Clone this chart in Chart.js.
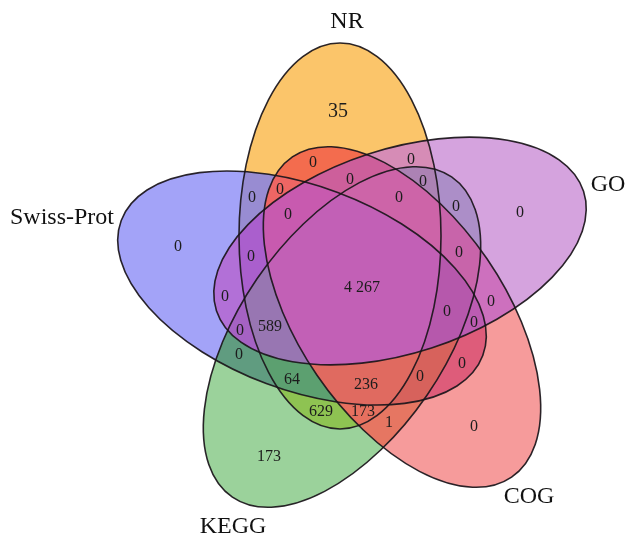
<!DOCTYPE html>
<html>
<head>
<meta charset="utf-8">
<script src="https://cdn.jsdelivr.net/npm/chart.js@4.4.1/dist/chart.umd.min.js"></script>
<style>
  html, body { margin: 0; padding: 0; background: #fff; }
  #wrap { width: 625px; height: 539px; }
</style>
</head>
<body>
<div id="wrap"><canvas id="venn" width="625" height="539"></canvas></div>
<script>
// ===== DATA =====
const setNames = ["NR", "Swiss-Prot", "KEGG", "COG", "GO"];
const setKeys = ["N", "S", "K", "C", "G"];

// which sets each region belongs to, and its count
const regionMembers = [
  "N",
  "NC", "NG", "NSC", "NS", "NCG", "NKG", "NKCG", "NSCG", "KG",
  "G", "S", "NSG", "KCG",
  "NSKCG",
  "SG", "CG", "SKCG", "SCG", "SKG",
  "NSKG",
  "SK", "SKC", "SC",
  "NSK", "NSKC", "NK", "NKC", "KC",
  "C", "K"
];
const regionCounts = [
  35,
  0, 0, 0, 0, 0, 0, 0, 0, 0,
  0, 0, 0, 0,
  4267,
  0, 0, 0, 0, 0,
  589,
  0, 0, 0,
  64, 236, 629, 173, 1,
  0, 173
];

// ===== LAYOUT =====
// plot units == canvas pixels (x 0..625, y 0..539 top-down)
const ellipseCenters = [[340, 236], [302, 288], [342, 337], [402, 317], [400, 251]];
const ellipseAxes = [[193, 101], [193, 102], [194, 103], [194, 103], [193, 102]];
const ellipseTilt = [90, 20.5, -55.6, 55.6, -18];

const regionFills = [
  "rgb(251,197,106)",
  "rgb(243,108,78)", "rgb(214,140,182)", "rgb(238,102,100)", "rgb(152,140,210)", "rgb(205,95,155)",
  "rgb(172,130,180)", "rgb(205,100,168)", "rgb(200,90,175)", "rgb(172,142,200)",
  "rgb(213,163,222)", "rgb(163,163,248)", "rgb(170,95,205)", "rgb(200,100,170)",
  "rgb(194,96,182)",
  "rgb(178,112,215)", "rgb(205,112,190)", "rgb(182,88,172)", "rgb(188,92,178)", "rgb(165,98,195)",
  "rgb(152,118,178)",
  "rgb(96,156,128)", "rgb(215,98,92)", "rgb(222,92,122)",
  "rgb(92,160,112)", "rgb(224,106,96)", "rgb(142,195,82)", "rgb(230,112,95)", "rgb(230,118,98)",
  "rgb(246,155,155)", "rgb(155,210,155)"
];

const setLabelAnchors = [[347, 22], [62, 218], [233, 527], [529, 497], [608, 185]];
const regionAnchors = [
  [338, 112],
  [313, 163], [411, 160], [280, 190], [252, 198], [350, 180], [423, 182], [399, 198], [288, 215], [456, 207],
  [520, 213], [178, 247], [251, 257], [459, 253],
  [362, 288],
  [225, 297], [491, 302], [447, 312], [474, 323], [240, 331],
  [270, 327],
  [239, 355], [420, 377], [462, 364],
  [292, 380], [366, 385], [321, 412], [363, 412], [389, 423],
  [474, 427], [269, 457]
];
const regionFontPx = regionCounts.map((c, i) => i === 0 ? 20 : 16);

const SERIF = '"Liberation Serif", "Times New Roman", serif';

function fmt(n) {
  return String(n).replace(/\B(?=(\d{3})+(?!\d))/g, " ");
}

// ===== ELLIPSES =====
const vennPlugin = {
  id: "vennEllipses",
  beforeDatasetsDraw(chart) {
    const { ctx, scales: { x, y } } = chart;
    const W = chart.width, H = chart.height;
    const shapes = ellipseCenters.map((c, i) => {
      const px = x.getPixelForValue(c[0]);
      const py = y.getPixelForValue(c[1]);
      const ra = Math.abs(x.getPixelForValue(c[0] + ellipseAxes[i][0]) - px);
      const rb = Math.abs(x.getPixelForValue(c[0] + ellipseAxes[i][1]) - px);
      return { px, py, ra, rb, rot: ellipseTilt[i] * Math.PI / 180 };
    });

    // each region = inside its own sets, outside the others
    regionMembers.forEach((m, r) => {
      ctx.save();
      shapes.forEach((s, i) => {
        const p = new Path2D();
        p.ellipse(s.px, s.py, s.ra, s.rb, s.rot, 0, Math.PI * 2);
        if (m.includes(setKeys[i])) {
          ctx.clip(p);
        } else {
          p.rect(0, 0, W, H);
          ctx.clip(p, "evenodd");
        }
      });
      ctx.fillStyle = regionFills[r];
      ctx.fillRect(0, 0, W, H);
      ctx.restore();
    });

    ctx.save();
    ctx.strokeStyle = "rgba(25,20,25,0.92)";
    ctx.lineWidth = 1.6;
    shapes.forEach(s => {
      ctx.beginPath();
      ctx.ellipse(s.px, s.py, s.ra, s.rb, s.rot, 0, Math.PI * 2);
      ctx.stroke();
    });
    ctx.restore();
  },
  afterDatasetsDraw(chart) {
    const ctx = chart.ctx;
    ctx.save();
    ctx.textAlign = "center";
    ctx.textBaseline = "middle";
    ctx.fillStyle = "#1c1c1c";

    chart.getDatasetMeta(0).data.forEach((pt, i) => {
      ctx.font = regionFontPx[i] + "px " + SERIF;
      ctx.fillText(fmt(regionCounts[i]), pt.x, pt.y);
    });

    ctx.fillStyle = "#111";
    ctx.font = "24px " + SERIF;
    chart.getDatasetMeta(1).data.forEach((pt, i) => {
      ctx.fillText(setNames[i], pt.x, pt.y);
    });
    ctx.restore();
  }
};

// ===== CHART =====
new Chart(document.getElementById("venn"), {
  type: "scatter",
  data: {
    datasets: [
      {
        label: "regions",
        data: regionAnchors.map(p => ({ x: p[0], y: p[1] })),
        pointRadius: 0
      },
      {
        label: "sets",
        data: setLabelAnchors.map(p => ({ x: p[0], y: p[1] })),
        pointRadius: 0
      }
    ]
  },
  options: {
    responsive: false,
    animation: false,
    devicePixelRatio: 1,
    layout: { padding: 0 },
    plugins: { legend: { display: false }, tooltip: { enabled: false } },
    scales: {
      x: { type: "linear", min: 0, max: 625, display: false },
      y: { type: "linear", min: 0, max: 539, reverse: true, display: false }
    }
  },
  plugins: [vennPlugin]
});
</script>
</body>
</html>
